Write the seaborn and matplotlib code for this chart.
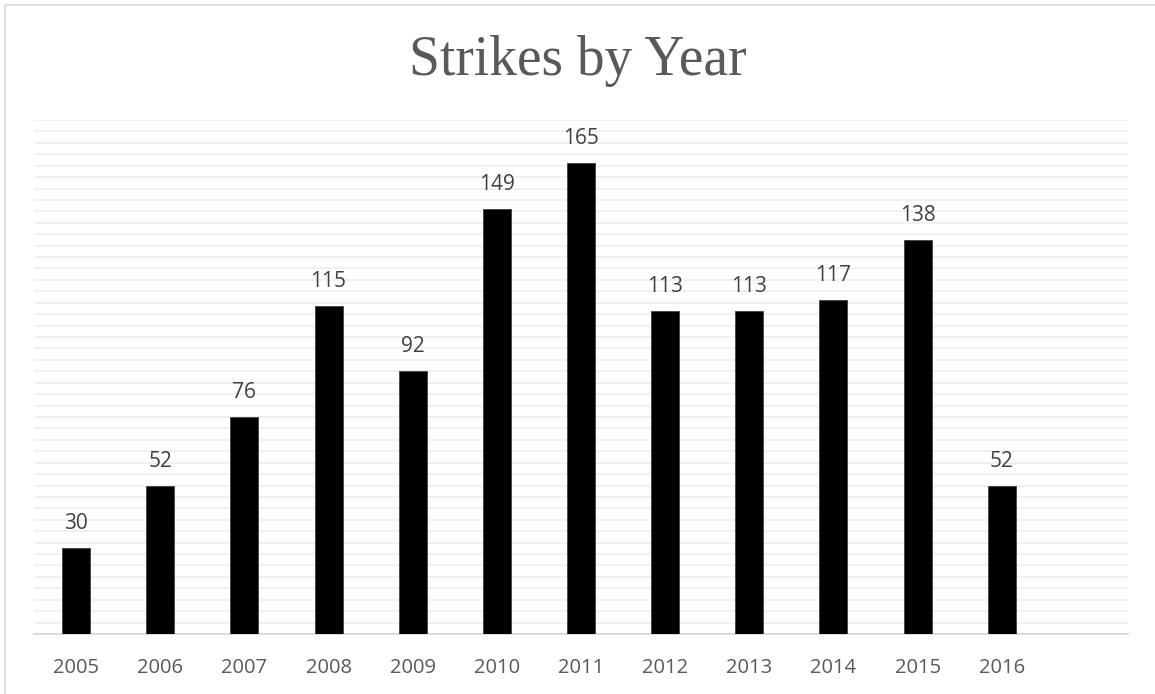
import matplotlib
matplotlib.use("Agg")
import matplotlib.pyplot as plt
import seaborn as sns
import pandas as pd
from matplotlib.patches import Rectangle

years = ["2005", "2006", "2007", "2008", "2009", "2010",
         "2011", "2012", "2013", "2014", "2015", "2016"]
strikes = [30, 52, 76, 115, 92, 149, 165, 113, 113, 117, 138, 52]

df = pd.DataFrame({"year": years, "strikes": strikes})

sns.set_theme(style="white")
plt.rcParams["font.family"] = ["Open Sans", "DejaVu Sans"]

fig = plt.figure(figsize=(11.55, 6.94), dpi=100)
ax = fig.add_axes([34 / 1155, 1 - 634 / 694, (1128 - 34) / 1155, (634 - 120) / 694])

sns.barplot(data=df, x="year", y="strikes", color="black", width=0.333,
            saturation=1, ax=ax, zorder=3)
for p in ax.patches:
    p.set_edgecolor("#404040")
    p.set_linewidth(0.6)

# one empty slot on the right, like the original
ax.set_xlim(-0.5, 12.5)
ax.set_ylim(0, 180)
ax.set_yticks(range(0, 181, 4))
ax.yaxis.grid(True, color="#efefef", linewidth=1.3, zorder=0)
ax.set_yticklabels([])
ax.tick_params(axis="y", length=0)
ax.tick_params(axis="x", length=0, labelsize=14.5, labelcolor="#595959", pad=17)
ax.set_xlabel("")
ax.set_ylabel("")
for s in ["top", "right", "left"]:
    ax.spines[s].set_visible(False)
ax.spines["bottom"].set_color("#d9d9d9")
ax.spines["bottom"].set_linewidth(1.3)

ax.bar_label(ax.containers[0], labels=[str(v) for v in strikes], padding=10,
             fontsize=15, color="#404040")

fig.text(0.5, 1 - 75 / 694, "Strikes by Year", ha="center", va="baseline",
         fontsize=40, color="#595959", family=["Liberation Serif", "DejaVu Serif"])

fig.patches.append(Rectangle((5 / 1155, -0.1), 1.2, 1 - 5 / 694 + 0.1,
                             transform=fig.transFigure, fill=False,
                             edgecolor="#d9d9d9", linewidth=1.2))

fig.savefig("out.png", dpi=100)
